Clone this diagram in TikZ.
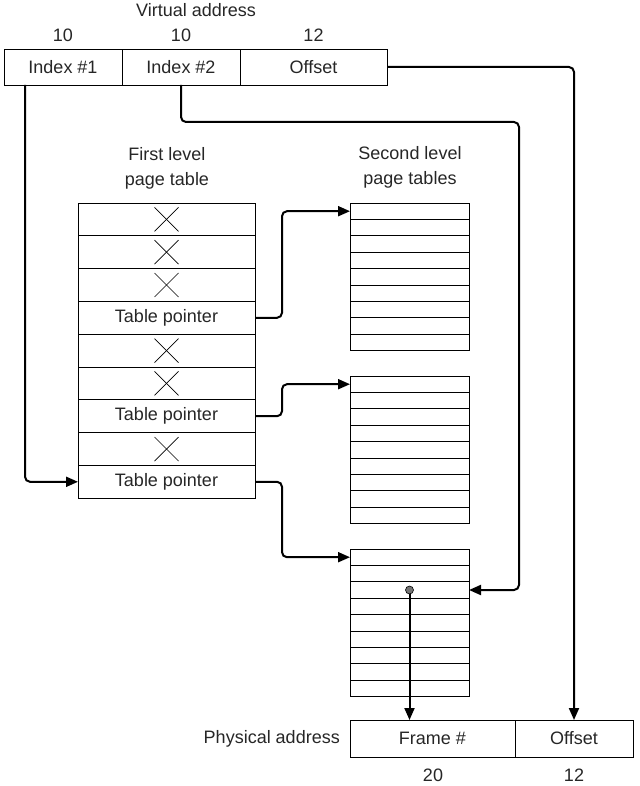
\documentclass[tikz,border=0pt]{standalone}
\usepackage{fontspec}
\setmainfont{Liberation Sans}
\usetikzlibrary{arrows.meta}
\tikzset{
  cell/.style={draw, line width=0.8pt, inner sep=0pt, outer sep=0pt, anchor=north west},
  conn/.style={line width=2pt, rounded corners=5pt},
  arr/.style={-{Triangle[length=12pt,width=10pt]}},
  xmark/.style={line width=0.7pt},
  lbl/.style={inner sep=0pt, align=center}
}
\begin{document}
\begin{tikzpicture}[x=1pt,y=-1pt,font=\fontsize{18}{21}\selectfont,text=black!85]
\useasboundingbox (0,0) rectangle (639,786);
% virtual address
\node[lbl] (va) at (196,10) {Virtual address};
\node[cell, minimum width=118pt, minimum height=36pt] (i1) at (4,49) {Index \#1};
\node[cell, minimum width=118pt, minimum height=36pt] (i2) at (122,49) {Index \#2};
\node[cell, minimum width=147pt, minimum height=36pt] (off) at (240,49) {Offset};
\node[lbl] (b1) at (i1.center |- 0,35) {10};
\node[lbl] (b2) at (i2.center |- 0,35) {10};
\node[lbl] (b3) at (off.center |- 0,35) {12};
% titles
\node[lbl] (t1) at (167,168) {First level\\[4pt]page table};
\node[lbl] (t2) at (410,167) {Second level\\[4pt]page tables};
% first level table
\foreach \i in {1,...,9}{
  \node[cell, minimum width=177pt, minimum height=32.8pt] (f\i) at (78,{203+32.8*(\i-1)}) {};
}
\foreach \i in {1,2,3,5,6,8}{
  \draw[xmark] ([shift={(-12pt,-12pt)}]f\i.center) -- ([shift={(12pt,12pt)}]f\i.center);
  \draw[xmark] ([shift={(-12pt,12pt)}]f\i.center) -- ([shift={(12pt,-12pt)}]f\i.center);
}
\foreach \i in {4,7,9}{ \node at (f\i.center) {Table pointer}; }
% second level tables
\foreach \t/\y in {1/203,2/376,3/549}{
  \foreach \i in {1,...,9}{
    \node[cell, minimum width=119pt, minimum height=16.4pt] (s\t r\i) at (350,{\y+16.4*(\i-1)}) {};
  }
}
% physical address
\node[cell, minimum width=165pt, minimum height=37pt] (pf) at (350,720) {Frame \#};
\node[cell, minimum width=118pt, minimum height=37pt] (po) at (515,720) {Offset};
\node[lbl, anchor=east] (pa) at (340,739) {Physical address};
\node[lbl] (c1) at (433,775) {20};
\node[lbl] (c2) at (po.center |- 0,775) {12};
% connectors
\coordinate (k2) at (519,122);
\draw[conn, arr] ([xshift=21pt]i1.south west) |- (f9.west);
\draw[conn, arr] (i2.south) |- (k2) |- (s3r3.east);
\draw[conn, arr] (off.east) -| (po.north);
\draw[conn, arr] (f4.east) -- ++(27,0) |- (s1r1.west);
\draw[conn, arr] (f7.east) -- ++(27,0) |- (s2r1.west);
\draw[conn, arr] (f9.east) -- ++(27,0) |- (s3r1.west);
\draw[line width=2pt, arr] (s3r3.center) -- (s3r3.center |- pf.north);
\node[circle, fill=black!55, draw=black, line width=0.6pt, minimum size=8pt, inner sep=0pt] (dot) at (s3r3.center) {};
\end{tikzpicture}
\end{document}
